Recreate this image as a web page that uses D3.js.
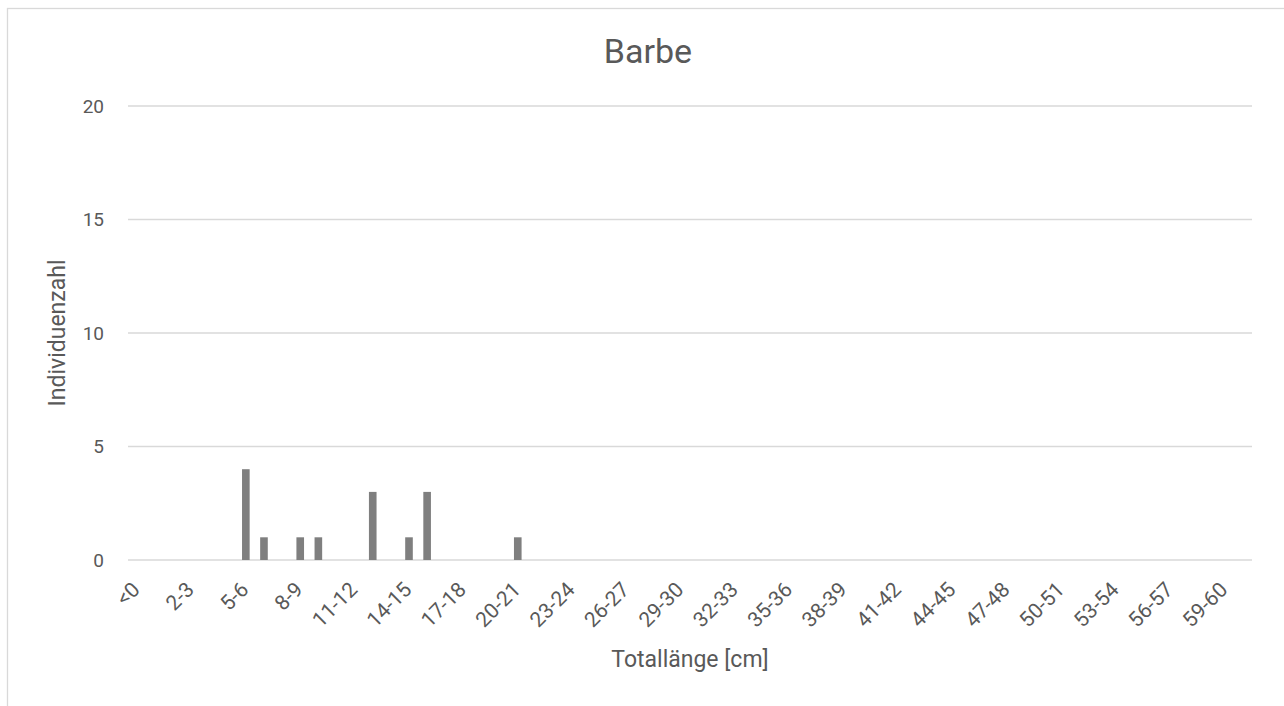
<!DOCTYPE html>
<html>
<head>
<meta charset="utf-8">
<script src="https://cdn.jsdelivr.net/npm/d3@7"></script>
<style>
  html, body { margin: 0; padding: 0; background: #fff; }
  svg { display: block; }
  text { font-family: Roboto, "Open Sans", sans-serif; fill: #595959; }
</style>
</head>
<body>
<svg id="chart" width="1284" height="706"></svg>
<script>
// Length classes (cm): "<0", "0-1" … "59-60", ">60"
const lengthClasses = ["<0"]
  .concat(d3.range(0, 60).map(i => `${i}-${i + 1}`))
  .concat([">60"]);

// Counts per length class (non-zero classes only)
const counts = {
  "5-6": 4,
  "6-7": 1,
  "8-9": 1,
  "9-10": 1,
  "12-13": 3,
  "14-15": 1,
  "15-16": 3,
  "20-21": 1
};
const values = lengthClasses.map(c => counts[c] || 0);

const yTicks = [0, 5, 10, 15, 20];
const chartTitle = "Barbe";
const xTitle = "Totallänge [cm]";
const yTitle = "Individuenzahl";

const svg = d3.select("#chart");
const W = 1284, H = 706;
const plot = { left: 128, right: 1252, top: 106, bottom: 560 };

// outer chart frame
svg.append("rect")
  .attr("x", 7.5).attr("y", 8.5)
  .attr("width", W + 20).attr("height", H + 20)
  .attr("fill", "none").attr("stroke", "#d9d9d9").attr("stroke-width", 1.3);

const x = d3.scaleBand().domain(lengthClasses).range([plot.left, plot.right]).padding(0);
const y = d3.scaleLinear().domain([0, 20]).range([plot.bottom, plot.top]);

// horizontal gridlines
svg.append("g").selectAll("line").data(yTicks).join("line")
  .attr("x1", plot.left).attr("x2", plot.right)
  .attr("y1", d => y(d)).attr("y2", d => y(d))
  .attr("stroke", "#d9d9d9").attr("stroke-width", 1.3);

// y axis labels
const yAxis = d3.axisLeft(y).tickValues(yTicks).tickSize(0).tickPadding(0);
svg.append("g")
  .attr("transform", `translate(${plot.left - 24},0)`)
  .call(yAxis)
  .call(g => g.select(".domain").remove())
  .selectAll("text")
  .style("font-size", "19px")
  .attr("fill", "#595959");

// bars (gap width 138%)
const barFrac = 1 / 2.38;
const bw = x.bandwidth() * barFrac;
svg.append("g").selectAll("rect").data(lengthClasses.map((c, i) => ({ c, v: values[i] })).filter(d => d.v > 0))
  .join("rect")
  .attr("x", d => x(d.c) + (x.bandwidth() - bw) / 2)
  .attr("width", bw)
  .attr("y", d => y(d.v))
  .attr("height", d => y(0) - y(d.v))
  .attr("fill", "#7f7f7f");

// x axis labels (every third class), rotated
const shown = lengthClasses.filter((c, i) => i % 3 === 0 && i <= 60);
const xAxis = d3.axisBottom(x).tickValues(shown).tickSize(0).tickPadding(0);
const xg = svg.append("g").attr("transform", `translate(0,${plot.bottom})`).call(xAxis);
xg.select(".domain").remove();
xg.selectAll("text")
  .style("font-size", "21px")
  .attr("fill", "#595959")
  .attr("text-anchor", "end")
  .attr("dy", null)
  .attr("y", null)
  .attr("transform", `translate(-1,26) rotate(-45)`)
  .attr("dominant-baseline", "central");

// titles
svg.append("text")
  .attr("x", 648).attr("y", 63)
  .attr("text-anchor", "middle")
  .style("font-size", "34px")
  .text(chartTitle);

svg.append("text")
  .attr("x", (plot.left + plot.right) / 2).attr("y", 667)
  .attr("text-anchor", "middle")
  .style("font-size", "23px")
  .text(xTitle);

svg.append("text")
  .attr("transform", `translate(65,${(plot.top + plot.bottom) / 2}) rotate(-90)`)
  .attr("text-anchor", "middle")
  .style("font-size", "23px")
  .text(yTitle);
</script>
</body>
</html>
